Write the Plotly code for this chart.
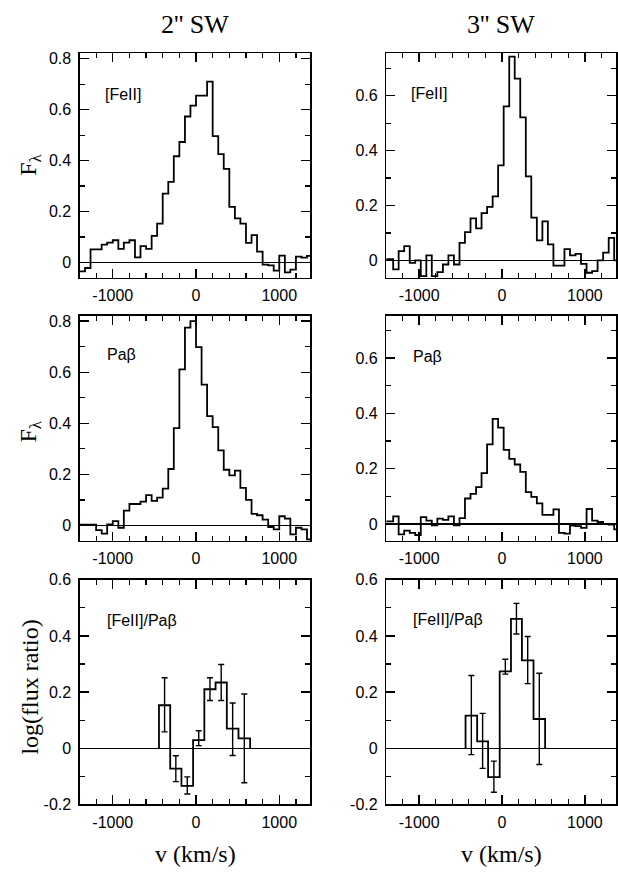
import plotly.graph_objects as go

# ---------------- data ----------------
# velocity bin edges (km/s)
V_EDGES_2SW = [-1400, -1333, -1267, -1200, -1133, -1067, -1000, -933, -867, -800, -733, -667,
               -600, -533, -467, -400, -333, -267, -200, -133, -67, 0, 67, 133, 200, 267,
               333, 400, 467, 533, 600, 667, 733, 800, 867, 933, 1000, 1067, 1133, 1200,
               1267, 1333, 1400]
V_EDGES_3SW = [-1400, -1313, -1247, -1180, -1113, -1047, -980, -913, -847, -780, -713, -647,
               -580, -513, -447, -380, -313, -247, -180, -113, -47, 20, 87, 153, 220, 287,
               353, 420, 487, 553, 620, 687, 753, 820, 887, 953, 1020, 1087, 1153, 1220,
               1287, 1353, 1420]

FEII_2SW = [-0.035, -0.022, 0.051, 0.051, 0.070, 0.078, 0.087, 0.053, 0.078, 0.087, 0.020, 0.064,
            0.053, 0.104, 0.152, 0.270, 0.316, 0.417, 0.473, 0.573, 0.616, 0.655, 0.655, 0.710,
            0.496, 0.425, 0.367, 0.218, 0.173, 0.152, 0.077, 0.107, 0.042, -0.009, -0.012, -0.032,
            0.027, -0.039, -0.028, 0.023, 0.019, 0.026]
PAB_2SW = [0.003, 0.003, 0.003, -0.018, -0.032, 0.004, 0.017, -0.009, 0.058, 0.084, 0.084, 0.093,
           0.119, 0.096, 0.109, 0.144, 0.221, 0.381, 0.611, 0.774, 0.800, 0.698, 0.551, 0.428,
           0.385, 0.294, 0.218, 0.196, 0.215, 0.147, 0.100, 0.045, 0.040, 0.023, -0.006, -0.015,
           0.036, 0.027, -0.035, -0.009, -0.015, -0.055]
FEII_3SW = [0.005, -0.033, 0.034, 0.052, -0.009, 0.000, -0.057, 0.018, -0.057, -0.043, -0.015, 0.018,
            -0.015, 0.064, 0.103, 0.153, 0.117, 0.172, 0.195, 0.233, 0.346, 0.561, 0.742, 0.662,
            0.521, 0.306, 0.156, 0.073, 0.142, 0.058, -0.019, -0.019, 0.041, 0.018, 0.024, -0.013,
            -0.045, -0.039, 0.000, 0.028, 0.082, 0.000]
PAB_3SW = [0.009, 0.027, -0.038, -0.024, -0.032, -0.040, 0.025, 0.012, -0.005, 0.019, 0.015, 0.027,
           -0.005, 0.021, 0.092, 0.109, 0.133, 0.184, 0.288, 0.380, 0.348, 0.268, 0.235, 0.215,
           0.188, 0.115, 0.098, 0.074, 0.033, 0.033, 0.053, -0.032, -0.035, -0.006, -0.008, -0.014,
           0.054, 0.012, 0.007, 0.000, -0.002, -0.020]

# log([FeII]/Pa-beta) in coarser bins
RATIO_EDGES_2SW = [-445, -310, -175, -35, 100, 235, 370, 510, 650]
RATIO_2SW = [0.153, -0.073, -0.134, 0.029, 0.210, 0.234, 0.070, 0.035]
RATIO_ERR_HI_2SW = [0.098, 0.046, 0.032, 0.033, 0.041, 0.064, 0.091, 0.158]
RATIO_ERR_LO_2SW = [0.095, 0.046, 0.029, 0.020, 0.040, 0.064, 0.096, 0.158]

RATIO_EDGES_3SW = [-440, -300, -168, -28, 108, 240, 380, 520]
RATIO_3SW = [0.116, 0.024, -0.103, 0.274, 0.461, 0.313, 0.104]
RATIO_ERR_HI_3SW = [0.143, 0.100, 0.057, 0.043, 0.055, 0.085, 0.163]
RATIO_ERR_LO_3SW = [0.139, 0.096, 0.054, 0.010, 0.054, 0.083, 0.162]

COLUMN_TITLES = ["2'' SW", "3'' SW"]
PANEL_LABELS = ['[FeII]', 'Paβ', '[FeII]/Paβ']
X_TICKS = [-1000, 0, 1000]
X_RANGE = [-1395, 1375]

# ---------------- figure ----------------
W, H = 618, 882
SANS = "Liberation Sans, Arial, Helvetica, sans-serif"
SERIF = "Liberation Serif, Times New Roman, serif"

col_px = [(80, 311), (387, 617)]
row_px = [(46, 275), (314, 543), (583, 812)]

def xdom(c):
    return [col_px[c][0] / W, col_px[c][1] / W]

def ydom(r):
    return [1 - row_px[r][1] / H, 1 - row_px[r][0] / H]

fig = go.Figure()
line_style = dict(color="black", width=1.8)

def add_hist(edges, vals, idx):
    xs = list(edges)
    ys = list(vals) + [vals[-1]]
    fig.add_trace(go.Scatter(x=xs, y=ys, mode="lines", line=dict(shape="hv", **line_style),
                             xaxis=f"x{idx}", yaxis=f"y{idx}", showlegend=False, hoverinfo="skip"))

def add_ratio(edges, vals, ehi, elo, idx):
    xs = [edges[0]] + list(edges[:-1]) + [edges[-1], edges[-1]]
    ys = [0] + list(vals) + [vals[-1], 0]
    fig.add_trace(go.Scatter(x=xs, y=ys, mode="lines", line=dict(shape="hv", **line_style),
                             xaxis=f"x{idx}", yaxis=f"y{idx}", showlegend=False, hoverinfo="skip"))
    centers = [(edges[i] + edges[i + 1]) / 2 for i in range(len(vals))]
    fig.add_trace(go.Scatter(x=centers, y=vals, mode="markers", marker=dict(size=1, color="rgba(0,0,0,0)"),
                             error_y=dict(type="data", symmetric=False, array=ehi, arrayminus=elo,
                                          color="black", thickness=1.4, width=3),
                             xaxis=f"x{idx}", yaxis=f"y{idx}", showlegend=False, hoverinfo="skip"))

add_hist(V_EDGES_2SW, FEII_2SW, 1)
add_hist(V_EDGES_3SW, FEII_3SW, 2)
add_hist(V_EDGES_2SW, PAB_2SW, 3)
add_hist(V_EDGES_3SW, PAB_3SW, 4)
add_ratio(RATIO_EDGES_2SW, RATIO_2SW, RATIO_ERR_HI_2SW, RATIO_ERR_LO_2SW, 5)
add_ratio(RATIO_EDGES_3SW, RATIO_3SW, RATIO_ERR_HI_3SW, RATIO_ERR_LO_3SW, 6)

y_ranges = {
    (0, 0): [-0.06, 0.822], (0, 1): [-0.063, 0.755],
    (1, 0): [-0.059, 0.82], (1, 1): [-0.06, 0.752],
    (2, 0): [-0.2, 0.6], (2, 1): [-0.2, 0.6],
}
y_ticks = {
    (0, 0): [0, 0.2, 0.4, 0.6, 0.8], (0, 1): [0, 0.2, 0.4, 0.6],
    (1, 0): [0, 0.2, 0.4, 0.6, 0.8], (1, 1): [0, 0.2, 0.4, 0.6],
    (2, 0): [-0.2, 0, 0.2, 0.4, 0.6], (2, 1): [-0.2, 0, 0.2, 0.4, 0.6],
}

def fmt(v):
    return "0" if v == 0 else f"{v:g}"

axis_common = dict(showline=True, linecolor="black", linewidth=1.5, mirror="allticks",
                   ticks="inside", tickcolor="black", tickwidth=1.3, showgrid=False,
                   tickfont=dict(family=SANS, size=16, color="black"))

layout = dict(width=W, height=H, margin=dict(l=0, r=0, t=0, b=0),
              paper_bgcolor="white", plot_bgcolor="white", showlegend=False)

for r in range(3):
    for c in range(2):
        idx = r * 2 + c + 1
        xa = "xaxis" if idx == 1 else f"xaxis{idx}"
        ya = "yaxis" if idx == 1 else f"yaxis{idx}"
        layout[xa] = dict(domain=xdom(c), anchor=f"y{idx}", range=X_RANGE,
                          tickmode="array", tickvals=X_TICKS, ticktext=[fmt(v) for v in X_TICKS],
                          ticklen=9, zeroline=False, ticklabelstandoff=3,
                          minor=dict(tickmode="linear", tick0=0, dtick=200, ticklen=5,
                                     tickwidth=1.2, tickcolor="black", ticks="inside", showgrid=False),
                          **axis_common)
        yt = y_ticks[(r, c)]
        layout[ya] = dict(domain=ydom(r), anchor=f"x{idx}", range=y_ranges[(r, c)],
                          tickmode="array", tickvals=yt, ticktext=[fmt(v) for v in yt],
                          ticklen=9, zeroline=True, zerolinecolor="black", zerolinewidth=1.3,
                          ticklabelstandoff=4,
                          minor=dict(tickmode="linear", tick0=0, dtick=0.1, ticklen=5,
                                     tickwidth=1.2, tickcolor="black", ticks="inside", showgrid=False),
                          **axis_common)

fig.update_layout(**layout)

annotations = []
for c, t in enumerate(COLUMN_TITLES):
    xc = (col_px[c][0] + col_px[c][1]) / 2 / W
    annotations.append(dict(text=t, x=xc, y=1 - 17 / H, xref="paper", yref="paper",
                            showarrow=False, xanchor="center", yanchor="middle",
                            font=dict(family=SERIF, size=26, color="black")))
    annotations.append(dict(text="v (km/s)", x=xc, y=1 - 863 / H, xref="paper", yref="paper",
                            showarrow=False, xanchor="center", yanchor="middle",
                            font=dict(family=SERIF, size=24, color="black")))
for yc in (160, 432):
    annotations.append(dict(text="F<sub>λ</sub>", x=30 / W, y=1 - yc / H, xref="paper", yref="paper",
                            showarrow=False, xanchor="center", yanchor="middle", textangle=-90,
                            font=dict(family=SERIF, size=24, color="black")))
annotations.append(dict(text="log(flux ratio)", x=30 / W, y=1 - 692 / H, xref="paper", yref="paper",
                        showarrow=False, xanchor="center", yanchor="middle", textangle=-90,
                        font=dict(family=SERIF, size=24, color="black")))
label_pos = {(0, 0): (0.10, 0.817), (0, 1): (0.10, 0.822), (1, 0): (0.108, 0.828),
             (1, 1): (0.107, 0.82), (2, 0): (0.108, 0.817), (2, 1): (0.107, 0.824)}
for r in range(3):
    for c in range(2):
        idx = r * 2 + c + 1
        xs = "x" if idx == 1 else f"x{idx}"
        ys = "y" if idx == 1 else f"y{idx}"
        px, py = label_pos[(r, c)]
        annotations.append(dict(text=PANEL_LABELS[r], x=px, y=py, xref=f"{xs} domain", yref=f"{ys} domain",
                                showarrow=False, xanchor="left", yanchor="middle",
                                font=dict(family=SANS, size=16, color="black")))
fig.update_layout(annotations=annotations)

fig.write_html("out.html", config={"displayModeBar": False, "staticPlot": True},
               post_script="document.body.style.margin='0';document.body.style.overflow='hidden';")
